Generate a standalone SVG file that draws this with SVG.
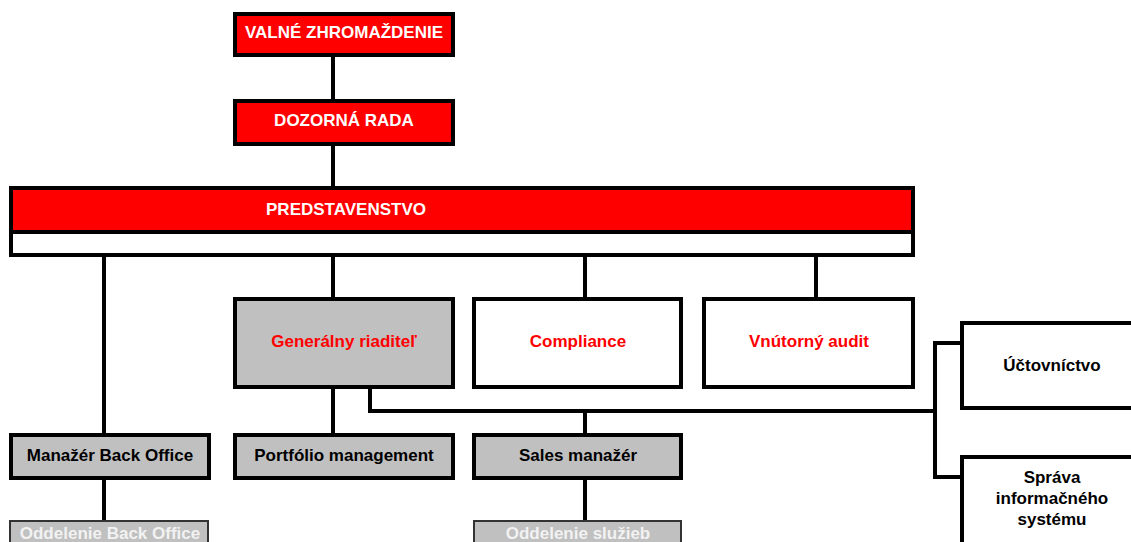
<svg xmlns="http://www.w3.org/2000/svg" width="1131" height="542" viewBox="0 0 1131 542">
<style>
.box{stroke:#000;stroke-width:4}
.red{fill:#FF0000}
.gray{fill:#C0C0C0}
.white{fill:#FFFFFF}
.dept{fill:#C0C0C0;stroke:#333;stroke-width:2}
.t{font-family:"Liberation Sans",Arial,sans-serif;font-weight:bold;font-size:17px;text-anchor:middle}
.tw{fill:#FFFFFF}
.tr{fill:#FF0000}
.tb{fill:#000000}
.tl{fill:#F2F2F2}
.c{fill:none;stroke:#000;stroke-width:4}
</style>
<rect width="1131" height="542" fill="#FFFFFF"/>
<g id="connectors">
<line class="c" x1="333" y1="57" x2="333" y2="99"/>
<line class="c" x1="333" y1="146" x2="333" y2="186"/>
<line class="c" x1="104" y1="232" x2="104" y2="433"/>
<line class="c" x1="333" y1="255" x2="333" y2="297"/>
<line class="c" x1="585" y1="255" x2="585" y2="297"/>
<line class="c" x1="816" y1="255" x2="816" y2="297"/>
<line class="c" x1="333" y1="389" x2="333" y2="433"/>
<polyline class="c" points="370,389 370,411 935,411"/>
<polyline class="c" points="960,343 935,343 935,477 960,477"/>
<line class="c" x1="585" y1="411" x2="585" y2="433"/>
<line class="c" x1="104" y1="480" x2="104" y2="520"/>
<line class="c" x1="585" y1="480" x2="585" y2="520"/>
</g>
<g id="valne-zhromazdenie">
<rect class="box red" x="235" y="14" width="218" height="41"/>
<text class="t tw" x="344" y="38">VALNÉ ZHROMAŽDENIE</text>
</g>
<g id="dozorna-rada">
<rect class="box red" x="235" y="101" width="218" height="43"/>
<text class="t tw" x="344" y="126">DOZORNÁ RADA</text>
</g>
<g id="predstavenstvo">
<rect class="red" x="11" y="188" width="902" height="44"/>
<rect class="white" x="11" y="232" width="902" height="23"/>
<rect class="box" fill="none" x="11" y="188" width="902" height="67"/>
<line class="c" x1="11" y1="232" x2="913" y2="232"/>
<text class="t tw" x="346" y="215">PREDSTAVENSTVO</text>
</g>
<g id="generalny-riaditel">
<rect class="box gray" x="235" y="299" width="218" height="88"/>
<text class="t tr" x="344" y="347">Generálny riaditeľ</text>
</g>
<g id="compliance">
<rect class="box white" x="474" y="299" width="207" height="88"/>
<text class="t tr" x="578" y="347">Compliance</text>
</g>
<g id="vnutorny-audit">
<rect class="box white" x="704" y="299" width="209" height="88"/>
<text class="t tr" x="809" y="347">Vnútorný audit</text>
</g>
<g id="manazer-back-office">
<rect class="box gray" x="11" y="435" width="198" height="43"/>
<text class="t tb" x="110" y="461">Manažér Back Office</text>
</g>
<g id="portfolio-management">
<rect class="box gray" x="235" y="435" width="218" height="43"/>
<text class="t tb" x="344" y="461">Portfólio management</text>
</g>
<g id="sales-manazer">
<rect class="box gray" x="474" y="435" width="207" height="43"/>
<text class="t tb" x="578" y="461">Sales manažér</text>
</g>
<g id="oddelenie-back-office">
<rect class="dept" x="10" y="521" width="198" height="40"/>
<text class="t tl" x="110" y="539">Oddelenie Back Office</text>
</g>
<g id="oddelenie-sluzieb">
<rect class="dept" x="474" y="521" width="207" height="40"/>
<text class="t tl" x="578" y="539">Oddelenie služieb</text>
</g>
<g id="uctovnictvo">
<rect class="box white" x="962" y="323" width="200" height="85"/>
<text class="t tb" x="1052" y="371">Účtovníctvo</text>
</g>
<g id="sprava-informacneho-systemu">
<rect class="box white" x="962" y="457" width="200" height="110"/>
<text class="t tb" x="1052" y="483">Správa</text>
<text class="t tb" x="1052" y="504">informačného</text>
<text class="t tb" x="1052" y="525">systému</text>
</g>
</svg>
